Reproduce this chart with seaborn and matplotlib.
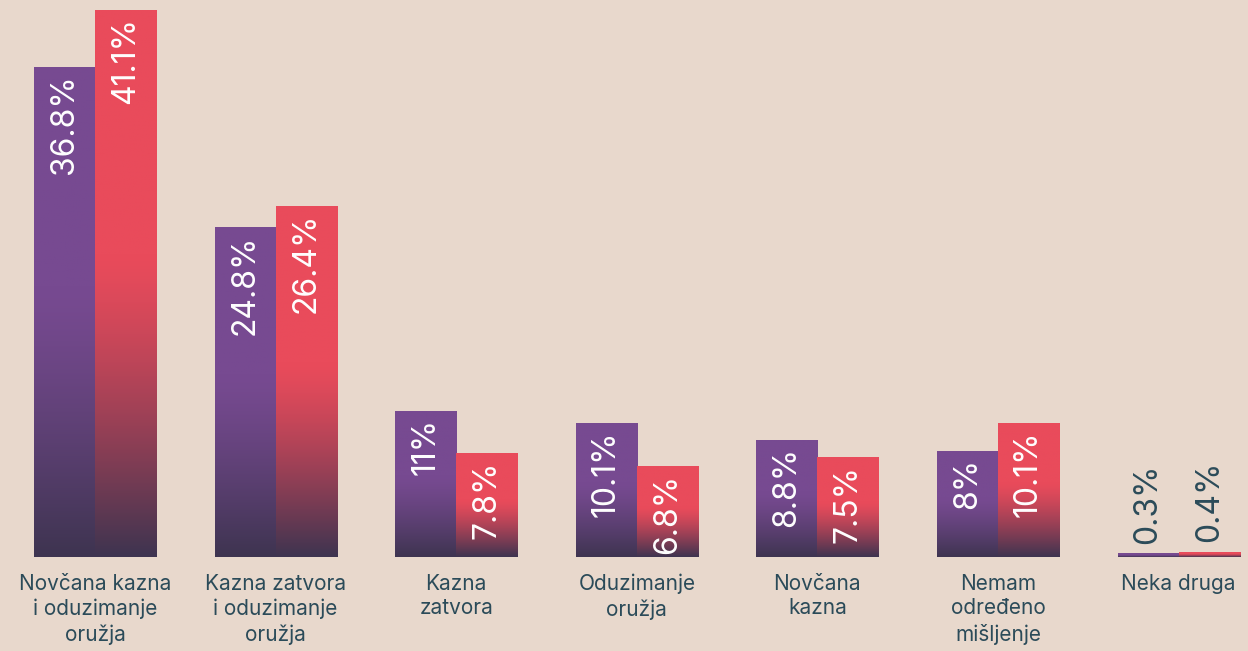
import numpy as np
import pandas as pd
import matplotlib
matplotlib.use('Agg')
import matplotlib.pyplot as plt
import matplotlib.colors as mcolors
import seaborn as sns

categories = ['Novčana kazna\ni oduzimanje\noružja', 'Kazna zatvora\ni oduzimanje\noružja',
              'Kazna\nzatvora', 'Oduzimanje\noružja', 'Novčana\nkazna',
              'Nemam\nodređeno\nmišljenje', 'Neka druga']
series_a = [36.8, 24.8, 11, 10.1, 8.8, 8, 0.3]
series_b = [41.1, 26.4, 7.8, 6.8, 7.5, 10.1, 0.4]
value_labels_a = ['36.8%', '24.8%', '11%', '10.1%', '8.8%', '8%', '0.3%']
value_labels_b = ['41.1%', '26.4%', '7.8%', '6.8%', '7.5%', '10.1%', '0.4%']

bg = '#e8d8cc'
purple = '#774a91'
red = '#e94b5b'
dark = '#3e3450'
text_dark = '#2b4b59'


def gradient_image(top_color, bottom_color, n=256):
    """Vertical gradient: solid at the top, fading to dark toward the bottom."""
    f = np.linspace(0, 1, n)  # 0 = top, 1 = bottom
    t = np.clip((f - 0.45) / 0.55, 0, 1) ** 1.3
    top = np.array(mcolors.to_rgb(top_color))
    bot = np.array(mcolors.to_rgb(bottom_color))
    cols = top[None, :] * (1 - t[:, None]) + bot[None, :] * t[:, None]
    return cols[:, None, :]


def main():
    df = pd.DataFrame({
        'cat': categories * 2,
        'val': series_a + series_b,
        'grp': ['a'] * len(categories) + ['b'] * len(categories),
    })

    plt.rcParams['font.family'] = ['Inter', 'DejaVu Sans']
    fig = plt.figure(figsize=(12.48, 6.51), dpi=100, facecolor=bg)
    ax = fig.add_axes([0, 0.1444, 1, 0.8556])
    ax.set_facecolor(bg)

    sns.barplot(data=df, x='cat', y='val', hue='grp', palette=[purple, red],
                width=0.676, dodge=True, legend=False, ax=ax, saturation=1,
                linewidth=0, errorbar=None)

    xlim = (-0.526, 6.384)
    ylim = (0, 41.85)

    # gradient fill clipped to each bar
    n = len(categories)
    for i, patch in enumerate(ax.patches[:2 * n]):
        color = purple if i < n else red
        x0, y0 = patch.get_x(), patch.get_y()
        w, h = patch.get_width(), patch.get_height()
        im = ax.imshow(gradient_image(color, dark), extent=[x0, x0 + w, y0, y0 + h],
                       aspect='auto', origin='upper', zorder=patch.get_zorder() + 0.1)
        im.set_clip_path(patch)

    # value labels
    for i, patch in enumerate(ax.patches[:2 * n]):
        label = (value_labels_a + value_labels_b)[i]
        xc = patch.get_x() + patch.get_width() / 2
        h = patch.get_height()
        if h > 2:
            ax.text(xc, h - 0.55, label, rotation=90, ha='center', va='top',
                    color='white', fontsize=23, zorder=5)
        else:
            ax.text(xc, h + 0.7, label, rotation=90, ha='center', va='bottom',
                    color=text_dark, fontsize=23, zorder=5)

    ax.set_xlim(*xlim)
    ax.set_ylim(*ylim)
    ax.set_xlabel('')
    ax.set_ylabel('')
    ax.set_yticks([])
    ax.set_xticks(range(n))
    ax.set_xticklabels(categories, fontsize=15, color=text_dark, linespacing=1.3)
    ax.tick_params(axis='x', length=0, pad=12)
    for s in ax.spines.values():
        s.set_visible(False)

    fig.savefig('out.png', dpi=100, facecolor=bg)


if __name__ == '__main__':
    main()
